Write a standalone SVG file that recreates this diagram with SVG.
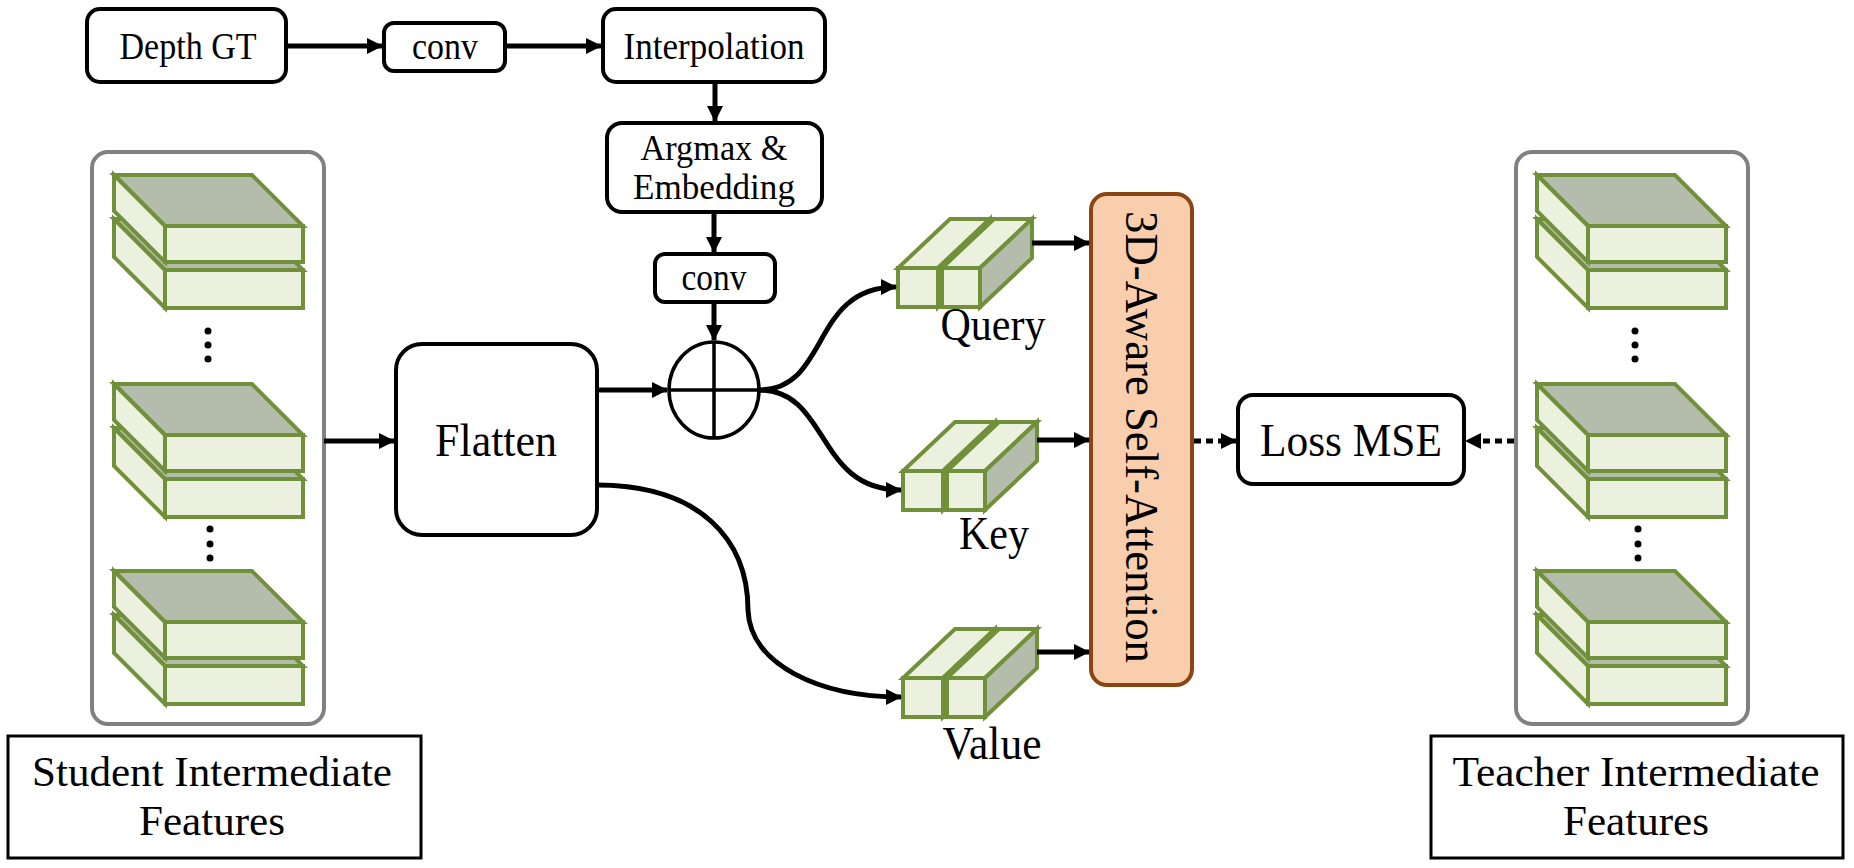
<svg xmlns="http://www.w3.org/2000/svg" width="1854" height="868" viewBox="0 0 1854 868">
<style>
.box{fill:#fff;stroke:#000;stroke-width:4}
.panel{fill:#fff;stroke:#808080;stroke-width:4}
.lbl{fill:#fff;stroke:#000;stroke-width:3}
.att{fill:#F8CEAC;stroke:#8B4513;stroke-width:4}
.t{font-family:"Liberation Serif","Times New Roman",serif;fill:#000;text-anchor:middle}
.s{font-size:37px}
.s2{font-size:35px}
.l{font-size:46px}
.l2{font-size:43px}
.lt{fill:#EBF1DE;stroke:#71903A;stroke-width:4;stroke-linejoin:miter}
.gr{fill:#B4BCAB;stroke:#71903A;stroke-width:4;stroke-linejoin:miter}
.c{fill:none;stroke:#000;stroke-width:5}
.th{fill:none;stroke:#000;stroke-width:3.5}
.d{fill:none;stroke:#000;stroke-width:5;stroke-dasharray:7 5}
</style>
<defs>
<marker id="ah" viewBox="0 0 16 16" refX="15" refY="8" markerWidth="16" markerHeight="16" markerUnits="userSpaceOnUse" orient="auto"><path d="M0,0 L16,8 L0,16 z" fill="#000"/></marker>
<g id="stack">
 <polygon class="gr" points="0,44 138,44 189,95 51,95"/>
 <polygon class="lt" points="0,44 51,95 51,133 0,82"/>
 <rect class="lt" x="51" y="95" width="138" height="38"/>
 <polygon class="gr" points="0,0 138,0 189,51 51,51"/>
 <polygon class="lt" points="0,0 51,51 51,87 0,36"/>
 <rect class="lt" x="51" y="51" width="138" height="36"/>
</g>
<g id="bars">
 <polygon class="lt" points="0,0 40,0 92,-49 52,-49"/>
 <polygon class="gr" points="40,0 92,-49 92,-10 40,39"/>
 <rect class="lt" x="0" y="0" width="40" height="39"/>
 <polygon class="lt" points="44,0 82,0 134,-49 96,-49"/>
 <polygon class="gr" points="82,0 134,-49 134,-10 82,39"/>
 <rect class="lt" x="44" y="0" width="38" height="39"/>
</g>
</defs>

<g id="student">
 <rect class="panel" x="92" y="152" width="232" height="572" rx="16"/>
 <use href="#stack" x="114" y="175"/>
 <use href="#stack" x="114" y="384"/>
 <use href="#stack" x="114" y="571"/>
 <circle cx="208" cy="331" r="3.5"/><circle cx="208" cy="345" r="3.5"/><circle cx="208" cy="359" r="3.5"/>
 <circle cx="210" cy="529" r="3.5"/><circle cx="210" cy="544" r="3.5"/><circle cx="210" cy="558" r="3.5"/>
</g>
<g id="student-label">
 <rect class="lbl" x="8" y="736" width="413" height="122"/>
 <text class="t l2" x="212" y="786" textLength="360" lengthAdjust="spacingAndGlyphs">Student Intermediate</text>
 <text class="t l2" x="212" y="835" textLength="146" lengthAdjust="spacingAndGlyphs">Features</text>
</g>

<g id="teacher">
 <rect class="panel" x="1516" y="152" width="232" height="572" rx="16"/>
 <use href="#stack" x="1537" y="175"/>
 <use href="#stack" x="1537" y="384"/>
 <use href="#stack" x="1537" y="571"/>
 <circle cx="1635" cy="331" r="3.5"/><circle cx="1635" cy="345" r="3.5"/><circle cx="1635" cy="359" r="3.5"/>
 <circle cx="1638" cy="529" r="3.5"/><circle cx="1638" cy="544" r="3.5"/><circle cx="1638" cy="558" r="3.5"/>
</g>
<g id="teacher-label">
 <rect class="lbl" x="1431" y="736" width="412" height="122"/>
 <text class="t l2" x="1636" y="786" textLength="367" lengthAdjust="spacingAndGlyphs">Teacher Intermediate</text>
 <text class="t l2" x="1636" y="835" textLength="146" lengthAdjust="spacingAndGlyphs">Features</text>
</g>

<g id="depth-gt">
 <rect class="box" x="87" y="9" width="199" height="73" rx="13"/>
 <text class="t s" x="188" y="59" textLength="137" lengthAdjust="spacingAndGlyphs">Depth GT</text>
</g>
<g id="conv1">
 <rect class="box" x="384" y="23" width="121" height="48" rx="10"/>
 <text class="t s" x="445" y="59" textLength="66" lengthAdjust="spacingAndGlyphs">conv</text>
</g>
<g id="interp">
 <rect class="box" x="603" y="9" width="222" height="73" rx="13"/>
 <text class="t s" x="714" y="59" textLength="181" lengthAdjust="spacingAndGlyphs">Interpolation</text>
</g>
<g id="argmax">
 <rect class="box" x="607" y="123" width="215" height="89" rx="15"/>
 <text class="t s2" x="714" y="160" textLength="147" lengthAdjust="spacingAndGlyphs">Argmax &amp;</text>
 <text class="t s2" x="714" y="199" textLength="162" lengthAdjust="spacingAndGlyphs">Embedding</text>
</g>
<g id="conv2">
 <rect class="box" x="655" y="254" width="120" height="48" rx="10"/>
 <text class="t s" x="714" y="290" textLength="65" lengthAdjust="spacingAndGlyphs">conv</text>
</g>
<g id="add">
 <ellipse class="th" cx="714" cy="390" rx="45" ry="48"/>
 <line class="th" x1="714" y1="342" x2="714" y2="438"/>
 <line class="th" x1="669" y1="390" x2="759" y2="390"/>
</g>
<g id="flatten">
 <rect class="box" x="396" y="344" width="201" height="191" rx="26"/>
 <text class="t l" x="496" y="456" textLength="122" lengthAdjust="spacingAndGlyphs">Flatten</text>
</g>
<g id="query">
 <use href="#bars" x="898" y="268"/>
 <text class="t l" x="993" y="340" textLength="105" lengthAdjust="spacingAndGlyphs">Query</text>
</g>
<g id="key">
 <use href="#bars" x="903" y="471"/>
 <text class="t l" x="994" y="549" textLength="70" lengthAdjust="spacingAndGlyphs">Key</text>
</g>
<g id="value">
 <use href="#bars" x="903" y="678"/>
 <text class="t l" x="992" y="759" textLength="99" lengthAdjust="spacingAndGlyphs">Value</text>
</g>
<g id="attention">
 <rect class="att" x="1091" y="194" width="101" height="491" rx="16"/>
 <text class="t l" transform="translate(1141,437) rotate(90)" x="0" y="15" textLength="452" lengthAdjust="spacingAndGlyphs">3D-Aware Self-Attention</text>
</g>
<g id="loss">
 <rect class="box" x="1238" y="395" width="226" height="89" rx="15"/>
 <text class="t l" x="1351" y="456" textLength="182" lengthAdjust="spacingAndGlyphs">Loss MSE</text>
</g>

<g id="connectors">
 <line class="c" x1="287" y1="46" x2="382" y2="46" marker-end="url(#ah)"/>
 <line class="c" x1="505" y1="46" x2="601" y2="46" marker-end="url(#ah)"/>
 <line class="c" x1="715" y1="82" x2="715" y2="121" marker-end="url(#ah)"/>
 <line class="c" x1="714" y1="212" x2="714" y2="252" marker-end="url(#ah)"/>
 <line class="c" x1="714" y1="302" x2="714" y2="340" marker-end="url(#ah)"/>
 <line class="c" x1="597" y1="390" x2="667" y2="390" marker-end="url(#ah)"/>
 <line class="c" x1="324" y1="441" x2="394" y2="441" marker-end="url(#ah)"/>
 <path class="c" d="M759,390 C830,390 810,287 896,287" marker-end="url(#ah)"/>
 <path class="c" d="M759,390 C830,390 815,490 901,490" marker-end="url(#ah)"/>
 <path class="c" d="M597,485 C700,485 748,540 748,610 C750,665 820,697 901,697" marker-end="url(#ah)"/>
 <line class="c" x1="1032" y1="243" x2="1089" y2="243" marker-end="url(#ah)"/>
 <line class="c" x1="1037" y1="440" x2="1089" y2="440" marker-end="url(#ah)"/>
 <line class="c" x1="1037" y1="652" x2="1089" y2="652" marker-end="url(#ah)"/>
 <line class="d" x1="1194" y1="441" x2="1236" y2="441" marker-end="url(#ah)"/>
 <line class="d" x1="1514" y1="441" x2="1466" y2="441" marker-end="url(#ah)"/>
</g>
</svg>
